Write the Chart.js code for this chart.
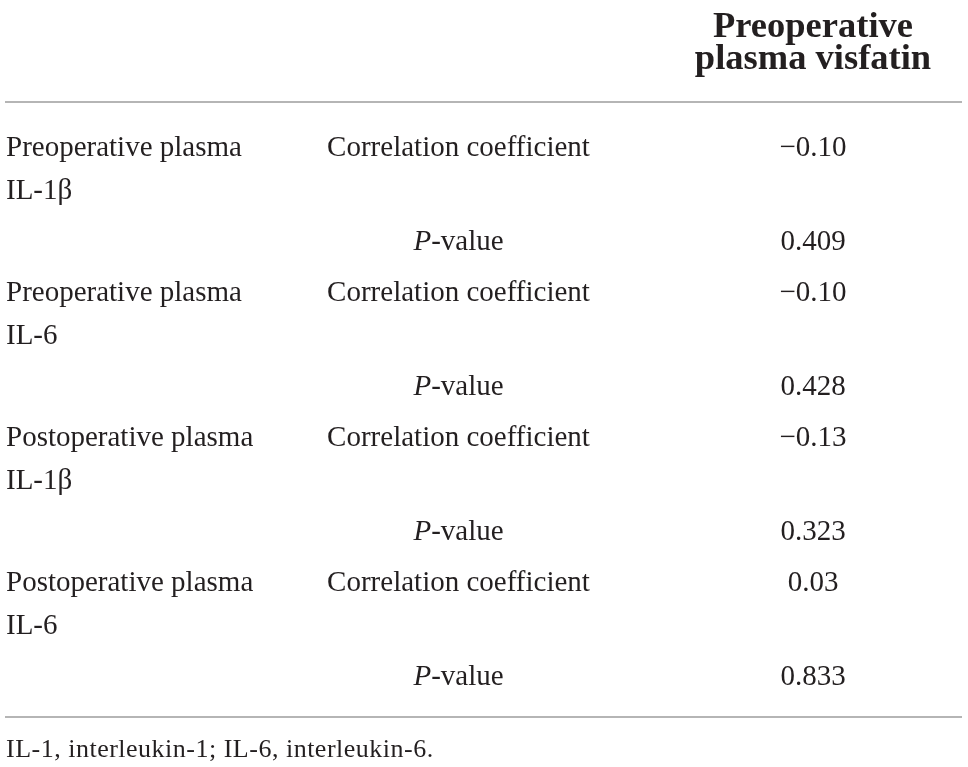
<!DOCTYPE html>
<html>
<head>
<meta charset="utf-8">
<script src="https://cdn.jsdelivr.net/npm/chart.js@4.4.1/dist/chart.umd.min.js"></script>
<style>
  html, body { margin: 0; padding: 0; background: #ffffff; }
  #wrap { width: 968px; height: 767px; }
</style>
</head>
<body>
<div id="wrap"><canvas id="c" width="968" height="767"></canvas></div>
<script>
// ---------------- data ----------------
const headerLines = ['Preoperative', 'plasma visfatin'];
const variableLines = [
  ['Preoperative plasma', 'IL-1β'],
  ['Preoperative plasma', 'IL-6'],
  ['Postoperative plasma', 'IL-1β'],
  ['Postoperative plasma', 'IL-6']
];
const statistics = ['Correlation coefficient', 'P-value'];
const correlationCoefficients = [-0.10, -0.10, -0.13, 0.03];
const pValues = [0.409, 0.428, 0.323, 0.833];
const footnote = 'IL-1, interleukin-1; IL-6, interleukin-6.';

// ---------------- layout (styles, not data) ----------------
const TEXT = '#231f20';
const RULE = '#b5b5b5';
const BODY_FONT = '29px "Liberation Serif", "Times New Roman", serif';
const ITALIC_FONT = 'italic 29px "Liberation Serif", "Times New Roman", serif';
const HEAD_FONT = 'bold 36.5px "Liberation Serif", "Times New Roman", serif';
const FOOT_FONT = '26px "Liberation Serif", "Times New Roman", serif';
const COL_ANCHOR = [6, 458.5, 813];          // x-scale units (table width = 968)
const COL_ALIGN = ['left', 'center', 'center'];
const ROW_PAD = 0.186;                        // extra space between rows, in line units
const HEAD_PITCH = 0.744;
const HEAD_TO_RULE = 0.767;
const RULE_TO_BODY = 1.256;
const BODY_TO_RULE = 0.756;
const RULE_TO_FOOT = 0.92;

function fmtCoef(v) {
  const s = Math.abs(v).toFixed(2);
  return v < 0 ? '\u2212' + s : s;
}
function fmtP(v) { return v.toFixed(3); }

// build table rows from the arrays
const rows = [];
variableLines.forEach((lines, i) => {
  rows.push({ col1: lines, col2: statistics[0], col3: fmtCoef(correlationCoefficients[i]) });
  rows.push({ col1: [], col2: statistics[1], col3: fmtP(pValues[i]) });
});
let pos = 0;
rows.forEach(r => { r.y = pos; pos += Math.max(1, r.col1.length) + ROW_PAD; });
const lastBaseline = rows[rows.length - 1].y;

const col1Points = rows.map((r, i) => ({ x: COL_ANCHOR[0], y: r.y, row: i }));
const col2Points = rows.map((r, i) => ({ x: COL_ANCHOR[1], y: r.y, row: i }));
const col3Points = rows.map((r, i) => ({ x: COL_ANCHOR[2], y: r.y, row: i }));

const Y_MIN = -3.628;
const Y_MAX = Y_MIN + 767 / 43;

const tablePlugin = {
  id: 'tablePlugin',
  afterDatasetsDraw(chart) {
    const ctx = chart.ctx;
    const xs = chart.scales.x, ys = chart.scales.y;
    ctx.save();
    ctx.fillStyle = TEXT;
    ctx.textBaseline = 'alphabetic';

    // header
    const ruleTopV = -RULE_TO_BODY;
    const head2V = ruleTopV - HEAD_TO_RULE;
    const head1V = head2V - HEAD_PITCH;
    ctx.font = HEAD_FONT;
    ctx.textAlign = 'center';
    ctx.fillText(headerLines[0], xs.getPixelForValue(COL_ANCHOR[2]), ys.getPixelForValue(head1V));
    ctx.fillText(headerLines[1], xs.getPixelForValue(COL_ANCHOR[2]), ys.getPixelForValue(head2V));

    // rules
    ctx.strokeStyle = RULE;
    ctx.lineWidth = 2;
    const x0 = xs.getPixelForValue(5), x1 = xs.getPixelForValue(962);
    [ruleTopV, lastBaseline + BODY_TO_RULE].forEach(v => {
      const py = Math.round(ys.getPixelForValue(v));
      ctx.beginPath(); ctx.moveTo(x0, py); ctx.lineTo(x1, py); ctx.stroke();
    });

    // body cells from dataset elements
    chart.data.datasets.forEach((ds, di) => {
      const meta = chart.getDatasetMeta(di);
      meta.data.forEach((el, k) => {
        const row = rows[ds.data[k].row];
        const px = el.x, py = el.y;
        if (di === 0) {
          ctx.font = BODY_FONT; ctx.textAlign = 'left';
          row.col1.forEach((line, li) => {
            ctx.fillText(line, px, ys.getPixelForValue(row.y + li));
          });
        } else if (di === 1) {
          const txt = row.col2;
          if (txt.startsWith('P-')) {
            ctx.font = ITALIC_FONT; const w1 = ctx.measureText('P').width;
            ctx.font = BODY_FONT; const w2 = ctx.measureText(txt.slice(1)).width;
            const sx = px - (w1 + w2) / 2;
            ctx.textAlign = 'left';
            ctx.font = ITALIC_FONT; ctx.fillText('P', sx, py);
            ctx.font = BODY_FONT; ctx.fillText(txt.slice(1), sx + w1, py);
          } else {
            ctx.font = BODY_FONT; ctx.textAlign = 'center';
            ctx.fillText(txt, px, py);
          }
        } else {
          ctx.font = BODY_FONT; ctx.textAlign = 'center';
          ctx.fillText(row.col3, px, py);
        }
      });
    });

    // footnote
    ctx.font = FOOT_FONT;
    ctx.textAlign = 'left';
    try { ctx.letterSpacing = '0.5px'; } catch (e) {}
    ctx.fillText(footnote, xs.getPixelForValue(6), ys.getPixelForValue(lastBaseline + BODY_TO_RULE + RULE_TO_FOOT));
    try { ctx.letterSpacing = '0px'; } catch (e) {}
    ctx.restore();
  }
};

new Chart(document.getElementById('c'), {
  type: 'scatter',
  data: {
    datasets: [
      { label: 'Variable', data: col1Points, pointRadius: 0, showLine: false },
      { label: 'Statistic', data: col2Points, pointRadius: 0, showLine: false },
      { label: 'Preoperative plasma visfatin', data: col3Points, pointRadius: 0, showLine: false }
    ]
  },
  options: {
    responsive: false,
    animation: false,
    devicePixelRatio: 1,
    layout: { padding: 0 },
    plugins: { legend: { display: false }, tooltip: { enabled: false } },
    events: [],
    scales: {
      x: { type: 'linear', display: false, min: 0, max: 968 },
      y: { type: 'linear', display: false, reverse: true, min: Y_MIN, max: Y_MAX }
    }
  },
  plugins: [tablePlugin]
});
</script>
</body>
</html>
